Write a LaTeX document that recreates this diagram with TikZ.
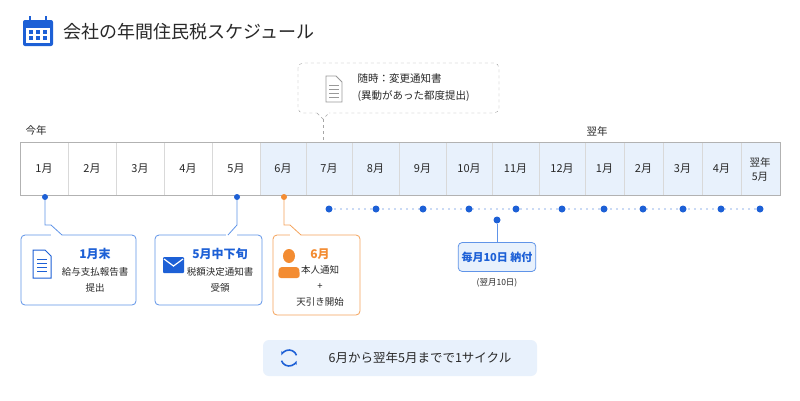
\documentclass[tikz,border=0pt]{standalone}
\usepackage{fontspec}
\setmainfont{Noto Sans CJK JP}
\usetikzlibrary{arrows.meta,positioning}
\definecolor{accent}{RGB}{29,96,214}
\definecolor{boxline}{RGB}{96,148,232}
\definecolor{orng}{RGB}{243,140,50}
\definecolor{cellblue}{RGB}{232,241,252}
\definecolor{txt}{RGB}{40,40,40}
\tikzset{
    month/.style={font=\fontsize{11}{13}\selectfont, text=txt, align=center},
    cell/.style={draw=gray!30},
    dot/.style={circle, fill=accent, inner sep=0pt, minimum size=7pt},
    callout/.style={draw=boxline, rounded corners=4pt, fill=white, line width=0.8pt},
    small/.style={font=\fontsize{9.5}{16}\selectfont, text=txt, align=center},
    heading/.style={font=\fontsize{12}{14}\selectfont\bfseries, text=accent}
}

\begin{document}
\begin{tikzpicture}[x=1pt, y=-1pt]

    \useasboundingbox[fill=white] (0, 0) rectangle (800, 400);

    % title
    \fill[accent, rounded corners=2pt] (23, 20) rectangle (53, 46);
    \fill[white] (26, 28) rectangle (50, 43);
    \draw[accent, line width=2pt] (30, 16) -- (30, 22) (46, 16) -- (46, 22);
    \foreach \cx in {31, 38, 45} {
        \foreach \cy in {32, 38} {
            \fill[accent] (\cx-2, \cy-2) rectangle (\cx+2, \cy+2);
        };
    };
    \node[anchor=west, font=\fontsize{18}{20}\selectfont, text=txt] (title) at (60, 32) {会社の年間住民税スケジュール};

    % timeline bar
    \fill[cellblue] (260, 142) rectangle (780, 195);
    \foreach \xa/\xb/\lab [count=\i] in {20/68/1月, 68/116/2月, 116/164/3月, 164/212/4月, 212/260/5月,
        260/306/6月, 306/352/7月, 352/399/8月, 399/446/9月, 446/492/10月, 492/539/11月, 539/585/12月,
        585/624/1月, 624/663/2月, 663/702/3月, 702/741/4月} {
        \draw[cell] (\xa, 142) rectangle (\xb, 195);
        \node[month] (m\i) at ({(\xa+\xb)/2}, 169) {\lab};
    };
    \draw[cell] (741, 142) rectangle (780, 195);
    \node[month, font=\fontsize{10.5}{14}\selectfont] (m17) at (760, 169) {翌年\\5月};
    \draw[gray!60] (20, 142) rectangle (780, 195);
    \node[small, font=\fontsize{10.5}{12}\selectfont] (thisyear) at (36, 131) {今年};
    \node[small, font=\fontsize{10.5}{12}\selectfont] (nextyear) at (597, 131) {翌年};

    % monthly payments
    \draw[accent, line width=1.4pt, line cap=round, dash pattern=on 0pt off 6pt] (329, 209) -- (760, 209);
    \foreach \px [count=\i] in {329, 376, 423, 469, 516, 562, 604, 643, 683, 721, 760} {
        \node[dot] (p\i) at (\px, 209) {};
    };
    \node[dot] (pay) at (497, 220) {};
    \node[callout, fill=cellblue, minimum width=76pt, minimum height=29pt, heading,
        font=\fontsize{11}{13}\selectfont\bfseries] (paybox) at (497, 257) {毎月10日 納付};
    \draw[boxline, line width=0.8pt] (pay) -- (paybox.north);
    \node[small, font=\fontsize{8.5}{10}\selectfont, below=3pt of paybox] (paynote) {(翌月10日)};

    % 1月末
    \node[dot, minimum size=6pt] (d1) at (45, 197) {};
    \draw[callout] (21, 235) rectangle (136, 305);
    \fill[white] (51, 234) rectangle (62, 236);
    \draw[boxline, line width=0.8pt] (d1) -- (45, 225) -- (51, 225) -- (62, 235);
    \draw[accent, line width=1pt, fill=white] (33, 250) -- (45, 250) -- (51, 256) -- (51, 278) -- (33, 278) -- cycle;
    \foreach \ly in {259, 263, 267, 271} { \draw[accent, line width=0.8pt] (37, \ly) -- (47, \ly); };
    \node[heading] (t1) at (95, 254) {1月末};
    \node[small] (t1b) at (95, 280) {給与支払報告書\\提出};

    % 5月中下旬
    \node[dot, minimum size=6pt] (d5) at (237, 197) {};
    \draw[callout] (155, 235) rectangle (262, 305);
    \fill[white] (226, 234) rectangle (237, 236);
    \draw[boxline, line width=0.8pt] (d5) -- (237, 225) -- (228, 235);
    \fill[accent, rounded corners=1pt] (163, 257) rectangle (184, 273);
    \draw[white, line width=1.2pt] (164, 259) -- (173.5, 266) -- (183, 259);
    \node[heading] (t5) at (220, 254) {5月中下旬};
    \node[small] (t5b) at (220, 280) {税額決定通知書\\受領};

    % 6月
    \node[dot, fill=orng, minimum size=6pt] (d6) at (284, 197) {};
    \draw[callout, draw=orng!80] (273, 235) rectangle (360, 315);
    \fill[white] (290, 234) rectangle (301, 236);
    \draw[orng!80, line width=0.8pt] (d6) -- (284, 225) -- (290, 225) -- (301, 235);
    \fill[orng] (289, 256) ellipse (6pt and 7pt);
    \fill[orng, rounded corners=3pt] (278, 278) -- (279, 267) -- (299, 267) -- (300, 278) -- cycle;
    \node[heading, text=orng] (t6) at (320, 254) {6月};
    \node[small] (t6b) at (320, 286) {本人通知\\+\\天引き開始};

    % 随時
    \draw[gray!70, dashed, rounded corners=5pt] (298, 63) rectangle (499, 113);
    \fill[white] (317, 112) rectangle (329, 114);
    \draw[gray!70, dashed] (317, 113) -- (323, 119) -- (329, 113);
    \draw[gray!70, dashed] (323, 119) -- (323, 142);
    \draw[gray!80, line width=0.8pt, fill=white] (326, 76) -- (336, 76) -- (342, 82) -- (342, 102) -- (326, 102) -- cycle;
    \foreach \ly in {85, 89, 93, 97} { \draw[gray!80, line width=0.6pt] (329, \ly) -- (339, \ly); };
    \node[small, anchor=west, align=left, font=\fontsize{10.5}{17}\selectfont] (anytime) at (354, 88) {随時：変更通知書\\(異動があった都度提出)};

    % cycle
    \fill[cellblue, rounded corners=6pt] (263, 340) rectangle (537, 376);
    \draw[accent, line width=1.6pt, -{Stealth[length=4pt]}] (289, 358) ++(160:8) arc (160:20:8);
    \draw[accent, line width=1.6pt, -{Stealth[length=4pt]}] (289, 358) ++(-20:8) arc (-20:-160:8);
    \node[font=\fontsize{12.5}{14}\selectfont, text=txt] (cycle) at (420, 358) {6月から翌年5月までで1サイクル};

\end{tikzpicture}
\end{document}
